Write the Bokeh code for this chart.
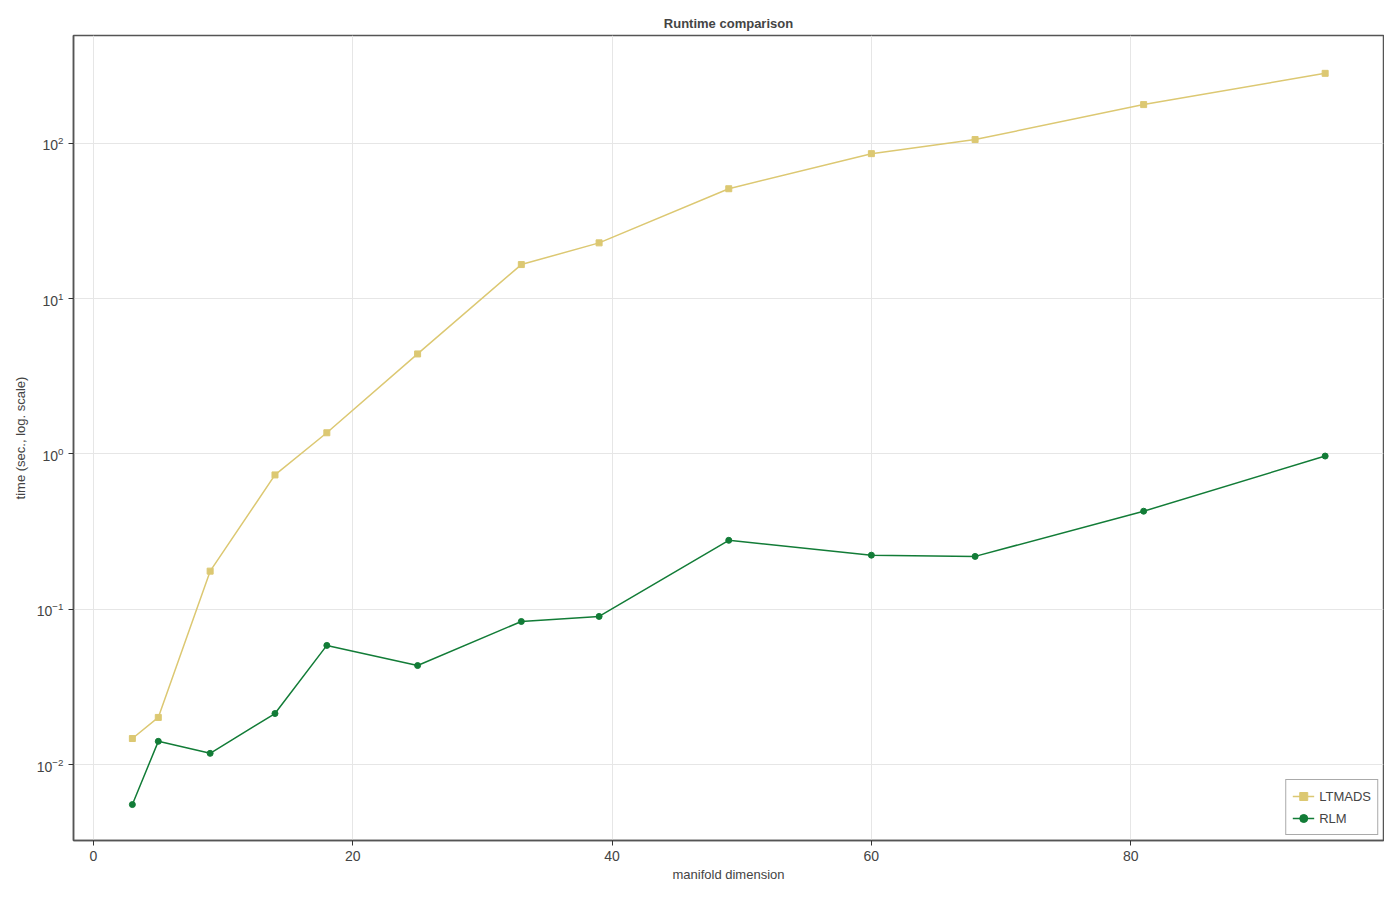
from bokeh.plotting import figure
from bokeh.embed import file_html
from bokeh.resources import INLINE
from bokeh.models import FixedTicker, Range1d, LogTickFormatter, Legend, LegendItem

dims = [3, 5, 9, 14, 18, 25, 33, 39, 49, 60, 68, 81, 95]
ltmads = [0.0147, 0.0201, 0.176, 0.733, 1.37, 4.41, 16.6, 22.9, 51.1, 86.0, 106.0, 178.0, 283.0]
rlm = [0.00552, 0.0141, 0.0118, 0.0213, 0.0585, 0.0434, 0.0834, 0.0899, 0.278, 0.223, 0.219, 0.428, 0.97]
x_ticks = [0, 20, 40, 60, 80]
y_ticks = [0.01, 0.1, 1, 10, 100]

FONT = "Liberation Sans"
C_LT = "#DCC872"
C_RLM = "#127C37"

p = figure(width=1384, height=884, y_axis_type="log", output_backend="svg",
           toolbar_location=None, title="Runtime comparison",
           x_range=Range1d(-1.54, 99.5), y_range=Range1d(0.00324, 496),
           min_border_left=73, min_border_right=1, min_border_top=35, min_border_bottom=44)

p.title.align = "center"
p.title.text_font = FONT
p.title.text_font_size = "13px"
p.title.text_font_style = "bold"
p.title.offset = 0

p.xaxis.axis_label = "manifold dimension"
p.yaxis.axis_label = "time (sec., log. scale)"
for ax in (p.xaxis[0], p.yaxis[0]):
    ax.axis_label_text_font = FONT
    ax.axis_label_text_font_size = "13px"
    ax.axis_label_text_font_style = "normal"
    ax.major_label_text_font = FONT
    ax.major_label_text_font_size = "14px"
    ax.axis_line_color = "#555555"
    ax.axis_line_width = 1.5
    ax.major_tick_line_color = "#333333"
    ax.major_tick_in = 0
    ax.major_tick_out = 5
    ax.minor_tick_line_color = None
    ax.axis_label_standoff = 6
p.xaxis.axis_label_standoff = 3
p.xaxis.ticker = FixedTicker(ticks=x_ticks)
p.yaxis.ticker = FixedTicker(ticks=y_ticks)
p.yaxis.formatter = LogTickFormatter()

p.grid.grid_line_color = "#e6e6e6"
p.grid.grid_line_width = 1
p.outline_line_color = "#555555"
p.outline_line_width = 1.5

l1 = p.line(dims, ltmads, line_color=C_LT, line_width=1.5)
s1 = p.scatter(dims, ltmads, marker="square", size=6, fill_color=C_LT, line_color=C_LT)
l2 = p.line(dims, rlm, line_color=C_RLM, line_width=1.5)
s2 = p.scatter(dims, rlm, marker="circle", size=6, fill_color=C_RLM, line_color=C_RLM)

legend = Legend(items=[LegendItem(label="LTMADS", renderers=[l1, s1]),
                       LegendItem(label="RLM", renderers=[l2, s2])],
                location="bottom_right")
legend.label_text_font = FONT
legend.label_text_font_size = "13px"
legend.border_line_color = "#555555"
legend.border_line_width = 1.5
legend.margin = 5
legend.padding = 6
legend.spacing = 2
legend.glyph_width = 22
legend.label_standoff = 5
p.add_layout(legend)

open("out.html", "w").write(file_html(p, INLINE))
